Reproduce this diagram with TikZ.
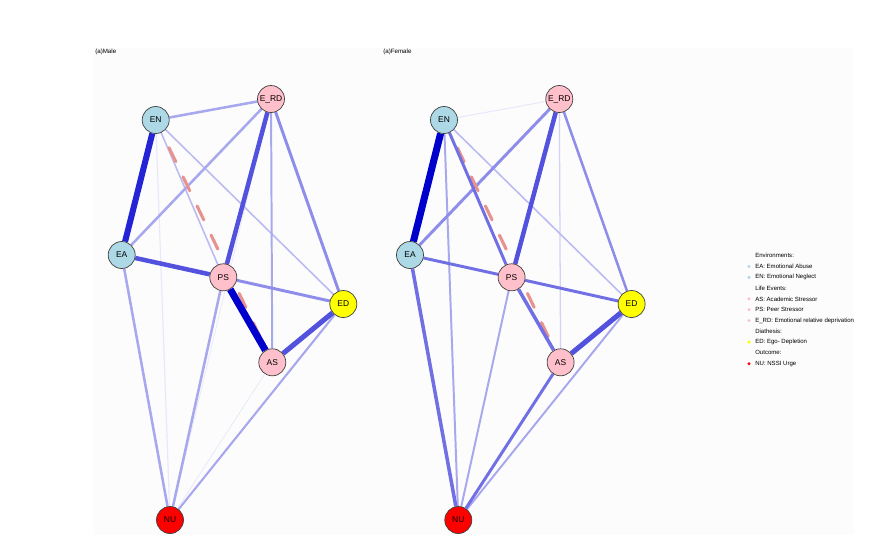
\documentclass[tikz,border=0pt]{standalone}
\usepackage{fontspec}
\setmainfont{Liberation Sans}
\usepackage{tikz}
\usetikzlibrary{backgrounds}
\definecolor{envc}{RGB}{173,216,230}
\definecolor{lifec}{RGB}{255,192,203}
\definecolor{diac}{RGB}{255,255,0}
\definecolor{outc}{RGB}{255,0,0}
\definecolor{panelbg}{RGB}{252,252,253}
\definecolor{negc}{RGB}{232,146,142}
\definecolor{posa}{RGB}{0,0,204}
\definecolor{posb}{RGB}{36,36,214}
\definecolor{posc}{RGB}{82,82,222}
\definecolor{posd}{RGB}{112,112,228}
\definecolor{pose}{RGB}{142,142,234}
\definecolor{posf}{RGB}{168,168,238}
\definecolor{posg}{RGB}{186,186,242}
\definecolor{posh}{RGB}{210,210,246}
\definecolor{posi}{RGB}{232,232,250}

\begin{document}
\begin{tikzpicture}[x=0.025cm,y=-0.025cm,
  vert/.style={circle,draw=black!75,line width=0.5pt,minimum size=0.675cm,inner sep=0pt,font=\fontsize{6}{7}\selectfont},
  neg/.style={negc,line width=2.2pt,dash pattern=on 11pt off 12pt,dash phase=11pt,line cap=round},
  ttl/.style={anchor=west,inner sep=0pt,font=\fontsize{4.4}{5}\selectfont},
  leg/.style={anchor=west,inner sep=0pt,font=\fontsize{4.3}{5}\selectfont},
  legdot/.style={circle,inner sep=0pt,minimum size=0.085cm}]
\useasboundingbox (0,0) rectangle (881,555);

% nodes, male panel (m) and female panel (f)
\foreach \p/\dx in {m/0,f/288.3} {
  \node[vert,fill=envc] (\p EN) at (155.7+\dx,120) {EN};
  \node[vert,fill=lifec] (\p ERD) at (271+\dx,99) {E\_RD};
  \node[vert,fill=envc] (\p EA) at (121.7+\dx,255) {EA};
  \node[vert,fill=lifec] (\p PS) at (223.3+\dx,277.3) {PS};
  \node[vert,fill=diac] (\p ED) at (343.3+\dx,304) {ED};
  \node[vert,fill=lifec] (\p AS) at (272.3+\dx,362.3) {AS};
  \node[vert,fill=outc] (\p NU) at (170+\dx,520) {NU};
}
\node[ttl] (mtitle) at (95,52) {(a)Male};
\node[ttl] (ftitle) at (383,52) {(a)Female};

\begin{scope}[on background layer]
\fill[panelbg] (94,48) rectangle (854,535);
% male
\draw[posi,line width=0.5pt] (mERD) -- (mNU);
\draw[posi,line width=0.5pt] (mAS) -- (mNU);
\draw[posi,line width=0.8pt] (mEN) -- (mNU);
\draw[posg,line width=1.1pt] (mEN) -- (mPS);
\draw[posg,line width=1.1pt] (mEN) -- (mED);
\draw[posf,line width=1.4pt] (mERD) -- (mAS);
\draw[posf,line width=1.5pt] (mED) -- (mNU);
\draw[posf,line width=1.8pt] (mEN) -- (mERD);
\draw[posf,line width=1.8pt] (mERD) -- (mEA);
\draw[posf,line width=1.8pt] (mEA) -- (mNU);
\draw[posf,line width=1.8pt] (mPS) -- (mNU);
\draw[neg] (mEN) -- (mAS);
\draw[pose,line width=2.1pt] (mERD) -- (mED);
\draw[pose,line width=2.1pt] (mPS) -- (mED);
\draw[posc,line width=3.2pt] (mEA) -- (mPS);
\draw[posc,line width=3.2pt] (mERD) -- (mPS);
\draw[posc,line width=3.6pt] (mAS) -- (mED);
\draw[posb,line width=4.3pt] (mEN) -- (mEA);
\draw[posa,line width=5pt] (mPS) -- (mAS);
% female
\draw[posi,line width=0.7pt] (fEN) -- (fERD);
\draw[posh,line width=0.9pt] (fERD) -- (fAS);
\draw[posg,line width=1.1pt] (fEN) -- (fED);
\draw[posf,line width=1.4pt] (fEN) -- (fNU);
\draw[posf,line width=1.4pt] (fPS) -- (fNU);
\draw[posf,line width=1.4pt] (fED) -- (fNU);
\draw[pose,line width=1.8pt] (fERD) -- (fED);
\draw[pose,line width=2.1pt] (fERD) -- (fEA);
\draw[neg] (fEN) -- (fAS);
\draw[posd,line width=2.1pt] (fEN) -- (fPS);
\draw[posd,line width=2.1pt] (fEA) -- (fPS);
\draw[posd,line width=2.1pt] (fPS) -- (fED);
\draw[posd,line width=2.1pt] (fAS) -- (fNU);
\draw[posd,line width=2.5pt] (fEA) -- (fNU);
\draw[posd,line width=2.5pt] (fPS) -- (fAS);
\draw[posc,line width=3.2pt] (fERD) -- (fPS);
\draw[posc,line width=3.6pt] (fAS) -- (fED);
\draw[posa,line width=5pt] (fEN) -- (fEA);
\end{scope}

% legend
\foreach \txt [count=\i from 0] in {Environments:,EA: Emotional Abuse,EN: Emotional Neglect,Life Events:,AS: Academic Stressor,PS: Peer Stressor,E\_RD: Emotional relative deprivation,Diathesis:,ED: Ego- Depletion,Outcome:,NU: NSSI Urge}
  \node[leg] (leg\i) at (755,255.7+10.8*\i) {\txt};
\foreach \i/\c in {1/envc,2/envc,4/lifec,5/lifec,6/lifec,8/diac,10/outc}
  \node[legdot,fill=\c] (dot\i) at (749,255.7+10.8*\i) {};

\end{tikzpicture}
\end{document}
